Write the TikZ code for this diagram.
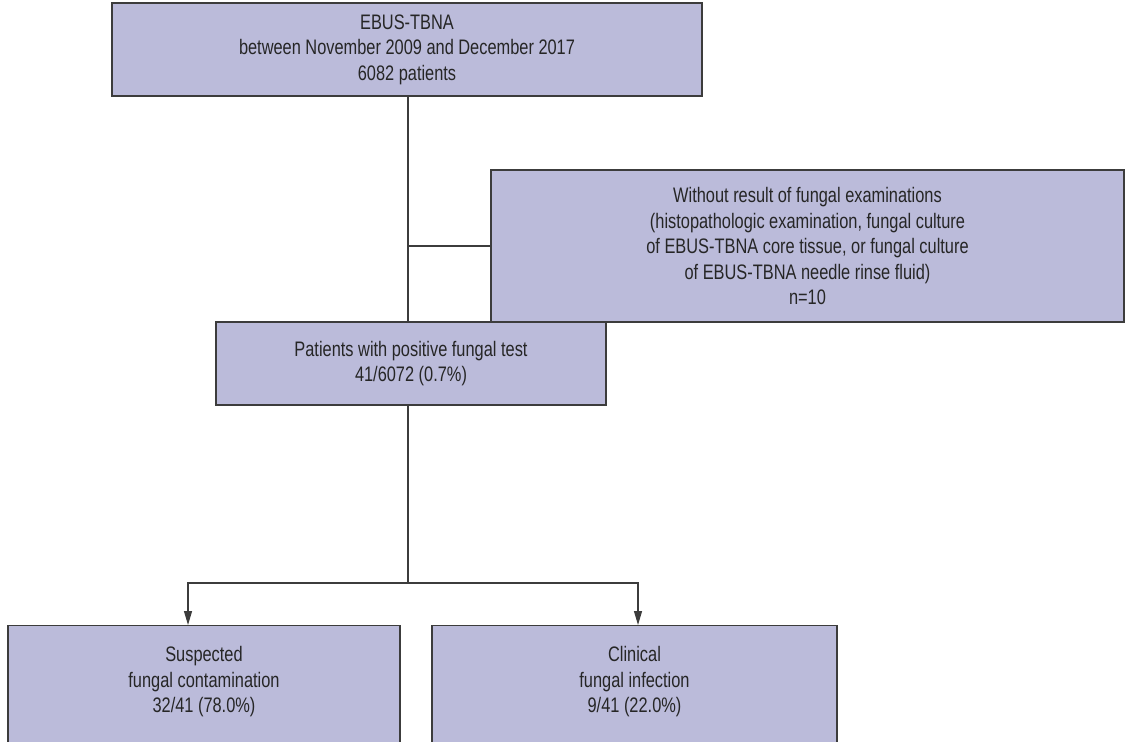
\documentclass[tikz,border=0pt]{standalone}
\usepackage{fontspec}
\setmainfont{Liberation Sans}[FakeStretch=0.78]
\usetikzlibrary{arrows.meta}
\definecolor{boxfill}{RGB}{187,187,218}
\definecolor{edge}{RGB}{60,60,60}
\tikzset{
  boxtext/.style={align=center, font=\fontsize{21}{25.5}\selectfont, text=black!85},
  flowbox/.style={boxtext, draw=edge, line width=1.4pt, fill=boxfill, inner sep=0pt},
  link/.style={draw=edge, line width=1.2pt},
  arr/.style={link, -{Triangle[length=14pt,width=8pt]}}
}
\begin{document}
\begin{tikzpicture}[x=1pt,y=-1pt]
\useasboundingbox (0,0) rectangle (1126,741);
\clip (0,0) rectangle (1126,741);
\node[flowbox, minimum width=590pt, minimum height=93pt] (top) at (407,49.5)
  {EBUS-TBNA\\between November 2009 and December 2017\\6082 patients};
\node[flowbox, minimum width=633pt, minimum height=152pt] (excl) at (807.5,246)
  {Without result of fungal examinations\\(histopathologic examination, fungal culture\\of EBUS-TBNA core tissue, or fungal culture\\of EBUS-TBNA needle rinse fluid)\\n=10};
\node[flowbox, minimum width=390pt, minimum height=83pt] (mid) at (411,363.5)
  {Patients with positive fungal test\\41/6072 (0.7\%)};
\node[flowbox, minimum width=392pt, minimum height=130pt, anchor=north] (bl) at (204,625)
  {};
\node[flowbox, minimum width=405pt, minimum height=130pt, anchor=north] (br) at (634.5,625)
  {};
\node[boxtext] (bltext) at (204,682)
  {Suspected\\fungal contamination\\32/41 (78.0\%)};
\node[boxtext] (brtext) at (634.5,682)
  {Clinical\\fungal infection\\9/41 (22.0\%)};
\coordinate (split) at (408,583);
\draw[link] ([xshift=1pt]top.south) -- ([xshift=1pt]top.south |- mid.north);
\draw[link] ([xshift=1pt]top.south |- excl.west) -- (excl.west);
\draw[link] (split |- mid.south) -- (split);
\draw[arr] (split) -| ([xshift=-16pt]bl.north);
\draw[arr] (split) -| ([xshift=3.5pt]br.north);
\end{tikzpicture}
\end{document}
